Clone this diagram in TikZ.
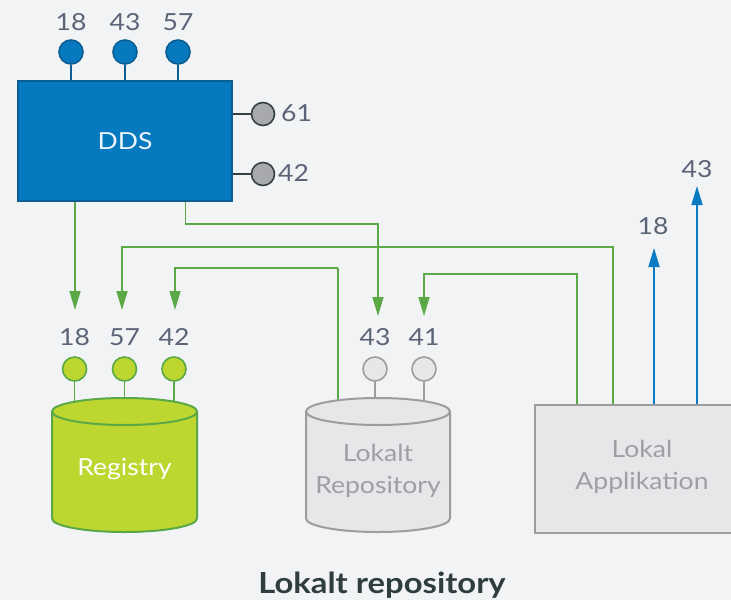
\documentclass[tikz,border=0pt]{standalone}
\usepackage{fontspec}
\setmainfont{Lato}[FakeStretch=1.13]
\usetikzlibrary{arrows.meta}
\definecolor{bg}{HTML}{F1F3F5}
\definecolor{ddsblue}{HTML}{0779BF}
\definecolor{ddsedge}{HTML}{0B5E92}
\definecolor{arrblue}{HTML}{0A7AC2}
\definecolor{grn}{HTML}{5AA846}
\definecolor{lime}{HTML}{BDD630}
\definecolor{lgray}{HTML}{E6E7E8}
\definecolor{mgray}{HTML}{9D9D9D}
\definecolor{dgray}{HTML}{34403F}
\definecolor{pgray}{HTML}{A7A9AC}
\definecolor{lbl}{HTML}{5B6477}
\definecolor{ttl}{HTML}{2F3D3D}
\definecolor{gtxt}{HTML}{9D9FA2}
\tikzset{
  lbltext/.style={text=lbl, font=\fontsize{23.5}{27}\selectfont, inner sep=0pt},
  bluedot/.style={circle, draw=ddsedge, fill=ddsblue, line width=1.6pt, minimum size=24pt, inner sep=0pt},
  graydot/.style={circle, draw=dgray, fill=pgray, line width=1.6pt, minimum size=23pt, inner sep=0pt},
  limedot/.style={circle, draw=grn, fill=lime, line width=1.6pt, minimum size=24pt, inner sep=0pt},
  lgdot/.style={circle, draw=mgray, fill=lgray, line width=1.6pt, minimum size=24pt, inner sep=0pt},
  garrow/.style={draw=grn, line width=1.6pt, -{Triangle[length=19pt,width=11pt]}},
  barrow/.style={draw=arrblue, line width=1.8pt, -{Triangle[length=19pt,width=11pt]}},
  gline/.style={draw=grn, line width=1.6pt},
}
\begin{document}
\begin{tikzpicture}[x=1pt,y=-1pt]
\fill[bg] (0,0) rectangle (731,600);
\useasboundingbox (0,0) rectangle (731,600);

% DDS
\node[draw=ddsedge, fill=ddsblue, line width=2pt, minimum width=214pt, minimum height=120pt, inner sep=0pt,
      text=white!92!ddsblue, font=\fontsize{23.5}{27}\selectfont] (dds) at (125,141) {DDS};
\node[bluedot] (t18) at (71,52) {};
\node[bluedot] (t43) at (125,52) {};
\node[bluedot] (t57) at (178,52) {};
\foreach \n in {t18,t43,t57} \draw[ddsedge, line width=1.6pt] (\n.south) -- (\n.south |- dds.north);
\node[lbltext] (l18t) at (71,22) {18};
\node[lbltext] (l43t) at (125,22) {43};
\node[lbltext] (l57t) at (178,22) {57};
\node[graydot] (g61) at (263,114) {};
\node[graydot] (g42) at (263,174) {};
\foreach \n in {g61,g42} \draw[dgray, line width=1.6pt] (\n.west) -- (\n.west -| dds.east);
\node[lbltext, anchor=west] (l61) at (281,113) {61};
\node[lbltext, anchor=west] (l42r) at (278,173) {42};

% Lokal Applikation box (cut at right edge)
\node[draw=mgray, fill=lgray, line width=2.2pt, minimum width=230pt, minimum height=128pt, inner sep=0pt, anchor=north west] (app) at (534,404) {};
\node[text=gtxt, font=\fontsize{23.5}{32}\selectfont, align=center] (apptxt) at (642,467) {Lokal\\Applikation};

% stems to cylinders (drawn below cylinders)
\node[limedot] (r18) at (74.6,369) {};
\node[limedot] (r57) at (124.5,369) {};
\node[limedot] (r42) at (174,369) {};
\node[lgdot] (p43) at (375,369) {};
\node[lgdot] (p41) at (424,369) {};
\foreach \n in {r18,r57,r42} \draw[grn, line width=1.6pt] (\n.south) -- ++(0,26);
\foreach \n in {p43,p41} \draw[mgray, line width=1.6pt] (\n.south) -- ++(0,26);
\coordinate (repotop) at (338,408);
\draw[gline] (repotop) -- (338,268) coordinate (k42);

% Registry cylinder
\fill[lime] (52,411.5) rectangle (197,518.5);
\fill[lime] (124.5,518.5) ellipse [x radius=72.5, y radius=13.5];
\draw[grn, line width=2pt] (52,411.5) -- (52,518.5) arc[start angle=180, end angle=0, x radius=72.5, y radius=13.5] -- (197,411.5);
\draw[grn, line width=2pt, fill=lime] (124.5,411.5) ellipse [x radius=72.5, y radius=13.5];
\node[text=white, font=\fontsize{23.5}{27}\selectfont] (regtxt) at (124.5,469) {Registry};

% Lokalt Repository cylinder
\fill[lgray] (306,411.5) rectangle (450,518.5);
\fill[lgray] (378,518.5) ellipse [x radius=72, y radius=13.5];
\draw[mgray, line width=2pt] (306,411.5) -- (306,518.5) arc[start angle=180, end angle=0, x radius=72, y radius=13.5] -- (450,411.5);
\draw[mgray, line width=2pt, fill=lgray] (378,411.5) ellipse [x radius=72, y radius=13.5];
\node[text=gtxt, font=\fontsize{23.5}{32}\selectfont, align=center] (repotxt) at (378,471) {Lokalt\\Repository};

% labels over lower dots
\node[lbltext] (l18) at (74.6,337) {18};
\node[lbltext] (l57) at (124.5,337) {57};
\node[lbltext] (l42) at (174,337) {42};
\node[lbltext] (l43) at (375,337) {43};
\node[lbltext] (l41) at (424,337) {41};

% green connectors
\draw[garrow] (75,0 |- dds.south) -- (75,310);
\draw[garrow] (185.5,0 |- dds.south) -- (185.5,224) -- (378,224) -- (378,316);
\draw[garrow] (613,0 |- app.north) -- (613,246.7) -- (122,246.7) -- (122,310);
\draw[garrow] (k42) -- (175,268) -- (175,310);
\draw[garrow] (577,0 |- app.north) -- (577,274) -- (424,274) -- (424,316);

% blue arrows
\draw[barrow] (654,0 |- app.north) -- (654,248);
\draw[barrow] (697,0 |- app.north) -- (697,186);
\node[lbltext] (b18) at (653,226) {18};
\node[lbltext] (b43) at (697,169) {43};

% title
\node[text=ttl, font=\bfseries\fontsize{29}{33}\selectfont] (title) at (382,585) {Lokalt repository};
\end{tikzpicture}
\end{document}
